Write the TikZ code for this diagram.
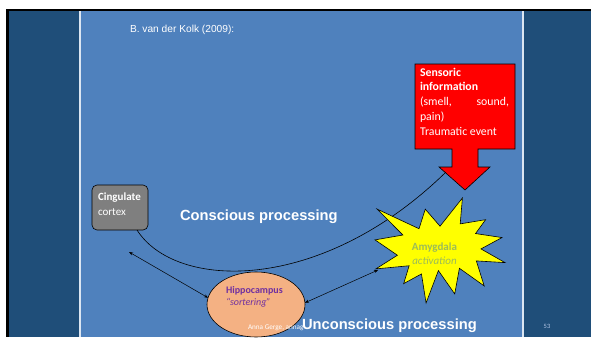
\documentclass[tikz,border=0pt]{standalone}
\usepackage{fontspec}
\setmainfont{Liberation Sans}
\newfontfamily\calibri{Carlito}
\usetikzlibrary{arrows.meta,shapes.geometric}
\definecolor{darkbg}{HTML}{1F4E79}
\definecolor{lightbg}{HTML}{4F81BD}
\definecolor{redbox}{HTML}{FF0000}
\definecolor{star}{HTML}{FFFF00}
\definecolor{graybox}{HTML}{7F7F7F}
\definecolor{salmon}{HTML}{F4B183}
\definecolor{amygreen}{HTML}{9BBB59}
\definecolor{hippurple}{HTML}{7030A0}
\definecolor{pagenum}{HTML}{B4C7E7}
\tikzset{
  plain/.style={inner sep=0pt, outer sep=0pt},
  bigtxt/.style={plain, text=white, font=\bfseries\fontsize{14.7}{16}\selectfont},
  dblarrow/.style={{Stealth[length=4pt,width=3pt]}-{Stealth[length=4pt,width=3pt]}, line width=0.5pt, black},
  shapeline/.style={draw=black, line width=0.6pt},
}
\begin{document}
\begin{tikzpicture}[x=1pt,y=-1pt]
\useasboundingbox (0,0) rectangle (591,337);
% slide background
\fill[white] (0,0) rectangle (591,337);
\fill[black] (6,9) rectangle (591,337);
\fill[darkbg] (9,11) rectangle (591,337);
\fill[white!80!lightbg] (79,11) rectangle (524,337);
\fill[lightbg] (81,11) rectangle (522,337);

% title
\node[plain, anchor=base west, text=white, font=\fontsize{10.2}{11}\selectfont] (title) at (130,32.5) {B. van der Kolk (2009):};

% red callout
\draw[shapeline, fill=redbox] (415,64) -- (515,64) -- (515,149) -- (478,149) -- (478,167) -- (490,167)
  -- (465,190) -- (439,167) -- (452,167) -- (452,149) -- (415,149) -- cycle;
\coordinate (sensend) at (446,172);
\node[plain, anchor=north west, align=left, text=white, font=\calibri\fontsize{11.8}{14.7}\selectfont] (sens) at (420,68)
  {\textbf{Sensoric}\\ \textbf{information}\\ \hbox to 89pt{(smell,\hfil sound,}\\ pain)\\ Traumatic event};

% cingulate box
\node[shapeline, fill=graybox, rounded corners=5pt, minimum width=56pt, minimum height=45pt, plain] (cing) at (120,207.5) {};
\node[plain, anchor=west, align=left, text=white, font=\calibri\fontsize{11}{15}\selectfont] (cingtxt) at (98,204)
  {\textbf{Cingulate}\\ cortex};

% conscious processing
\node[bigtxt, anchor=base west] (consc) at (180,220) {Conscious processing};

% curve
\draw[line width=0.6pt] ([xshift=17pt]cing.south) .. controls (175,290) and (320,295) .. (sensend);

% amygdala explosion
\begin{scope}[shift={(375,198)}, xscale=0.6019, yscale=0.4861]
\draw[shapeline, fill=star] (108,58) -- (145.22,0) -- (141.55,53.25) -- (183.8,44.57) -- (167.02,73.15)
  -- (210.97,81.37) -- (176.07,104.75) -- (216,132.9) -- (168.37,129.42) -- (181.45,180.95)
  -- (140.2,144.57) -- (132.47,197.37) -- (105.32,149.35) -- (84.85,216) -- (77.15,156.27)
  -- (47.62,176.17) -- (56.67,139.37) -- (1.35,145.87) -- (37.22,117.75) -- (0,86.15)
  -- (46.27,76.17) -- (3.7,22.95) -- (73.12,63.2) -- (83.52,22.95) -- cycle;
\end{scope}
\node[plain, align=center, text=amygreen, font=\calibri\fontsize{11}{14}\selectfont] (amyg) at (434.5,254)
  {\textbf{Amygdala}\\ \textit{activation}};
\coordinate (amygleft) at (378,270);

% hippocampus
\node[ellipse, shapeline, fill=salmon, minimum width=98pt, minimum height=65pt, plain] (hip) at (256,304.5) {};
\node[plain, anchor=west, align=left, text=hippurple, font=\calibri\fontsize{10}{12}\selectfont] (hiptxt) at (226,297)
  {\textbf{Hippocampus}\\ \textit{\char"201C sortering\char"201D}};

% arrows
\coordinate (cingfree) at (129,252);
\draw[dblarrow] (cingfree) -- (hip.172);
\draw[dblarrow] (hip.2) -- (amygleft);

% footer
\node[plain, anchor=base west, text=white, font=\calibri\fontsize{7.2}{8}\selectfont] (foot) at (248,329) {Anna Gerge, annag};
\node[bigtxt, anchor=base west] (unconsc) at (302,329) {Unconscious processing};
\node[plain, text=pagenum, font=\calibri\fontsize{6.5}{7}\selectfont] (pnum) at (547,326) {53};
\end{tikzpicture}
\end{document}
